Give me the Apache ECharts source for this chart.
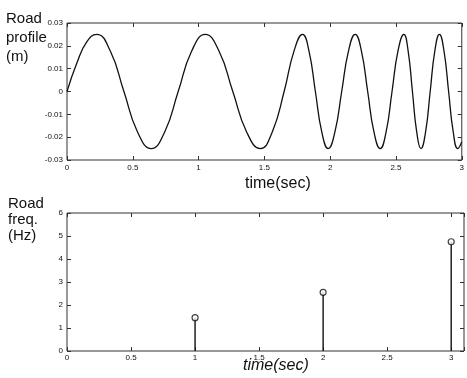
<!DOCTYPE html>
<html>
<head>
<meta charset="utf-8">
<script src="https://cdn.jsdelivr.net/npm/echarts@6/dist/echarts.min.js"></script>
<style>
  html, body { margin: 0; padding: 0; background: #fff; }
  #chart { width: 467px; height: 378px; }
</style>
</head>
<body>
<div id="chart"></div>
<script>
// road profile (m) sampled off the reference curve
const profileTime = [
  0, 0.075, 0.15, 0.225,
  0.329, 0.4325, 0.536, 0.64,
  0.7425, 0.845, 0.9475, 1.05,
  1.155, 1.26, 1.365, 1.47,
  1.56, 1.65, 1.725, 1.79,
  1.839, 1.8875, 1.936, 1.985,
  2.036, 2.0875, 2.139, 2.19,
  2.2375, 2.285, 2.3325, 2.38,
  2.425, 2.47, 2.515, 2.56,
  2.5925, 2.625, 2.6575, 2.69,
  2.725, 2.76, 2.795, 2.83,
  2.865, 2.9, 2.935, 2.97, 3.0
];
const profileValue = [
  0, 0.0125, 0.0217, 0.025,
  0.0177, 0, -0.0177, -0.025,
  -0.0177, 0, 0.0177, 0.025,
  0.0177, 0, -0.0177, -0.025,
  -0.0177, 0, 0.0177, 0.025,
  0.0177, 0, -0.0177, -0.025,
  -0.0177, 0, 0.0177, 0.025,
  0.0177, 0, -0.0177, -0.025,
  -0.0177, 0, 0.0177, 0.025,
  0.0177, 0, -0.0177, -0.025,
  -0.0177, 0, 0.0177, 0.025,
  0.0177, 0, -0.0177, -0.025, -0.022
];

// road frequency (Hz) stems
const stemTime = [1, 2, 3];
const stemFreq = [1.45, 2.55, 4.75];

const FONT = "Liberation Sans";
const INK = "#111";

const chart = echarts.init(document.getElementById("chart"), null, { renderer: "canvas" });

function frameAxis(extra) {
  return Object.assign({
    type: "value",
    axisLine: { show: false, onZero: false },
    splitLine: { show: false },
    axisTick: { show: true, inside: true, length: 4, lineStyle: { color: "#333" } },
    axisLabel: { show: true, color: INK, fontSize: 8, fontFamily: FONT, margin: 4 }
  }, extra);
}

const hideOdd = (v) => (Math.abs(v * 2 - Math.round(v * 2)) < 1e-6 ? String(+v.toFixed(2)) : "");

chart.setOption({
  backgroundColor: "#fff",
  animation: false,
  grid: [
    { left: 67, top: 23, width: 399, height: 137, show: true, borderColor: "#333", borderWidth: 1 },
    { left: 67, top: 213, width: 399, height: 138, show: true, borderColor: "#333", borderWidth: 1 }
  ],
  xAxis: [
    frameAxis({ gridIndex: 0, min: 0, max: 3, interval: 0.5, position: "bottom" }),
    frameAxis({ gridIndex: 0, min: 0, max: 3, interval: 0.5, position: "top", axisLabel: { show: false } }),
    frameAxis({ gridIndex: 1, min: 0, max: 3.1, interval: 0.5, position: "bottom",
      axisLabel: { show: true, color: INK, fontSize: 8, fontFamily: FONT, margin: 3, formatter: hideOdd } }),
    frameAxis({ gridIndex: 1, min: 0, max: 3.1, interval: 0.5, position: "top", axisLabel: { show: false } })
  ],
  yAxis: [
    frameAxis({ gridIndex: 0, min: -0.03, max: 0.03, interval: 0.01, position: "left",
      axisLabel: { show: true, color: INK, fontSize: 8, fontFamily: FONT, margin: 4,
        formatter: (v) => String(+v.toFixed(2)) } }),
    frameAxis({ gridIndex: 0, min: -0.03, max: 0.03, interval: 0.01, position: "right", axisLabel: { show: false } }),
    frameAxis({ gridIndex: 1, min: 0, max: 6, interval: 1, position: "left" }),
    frameAxis({ gridIndex: 1, min: 0, max: 6, interval: 1, position: "right", axisLabel: { show: false } })
  ],
  series: [
    {
      type: "line",
      xAxisIndex: 0,
      yAxisIndex: 0,
      data: profileTime.map((t, i) => [t, profileValue[i]]),
      smooth: 0.5,
      showSymbol: false,
      lineStyle: { color: INK, width: 1.3 }
    },
    {
      type: "bar",
      xAxisIndex: 2,
      yAxisIndex: 2,
      data: stemTime.map((t, i) => [t, stemFreq[i]]),
      barWidth: 1.4,
      itemStyle: { color: INK }
    },
    {
      type: "scatter",
      xAxisIndex: 2,
      yAxisIndex: 2,
      data: stemTime.map((t, i) => [t, stemFreq[i]]),
      symbol: "circle",
      symbolSize: 6,
      itemStyle: { color: "#fff", borderColor: INK, borderWidth: 1.2 },
      z: 5
    }
  ],
  graphic: [
    { type: "text", left: 6, top: 9, style: { text: "Road\nprofile\n(m)", font: "15px " + FONT, lineHeight: 19, fill: INK } },
    { type: "text", left: 8, top: 196, style: { text: "Road\nfreq.\n(Hz)", font: "15px " + FONT, lineHeight: 16, fill: INK } },
    { type: "text", left: 245, top: 176, style: { text: "time(sec)", font: "16px " + FONT, fill: INK } },
    { type: "text", left: 243, top: 358, style: { text: "time(sec)", font: "italic 16px " + FONT, fill: INK } }
  ]
});
</script>
</body>
</html>
